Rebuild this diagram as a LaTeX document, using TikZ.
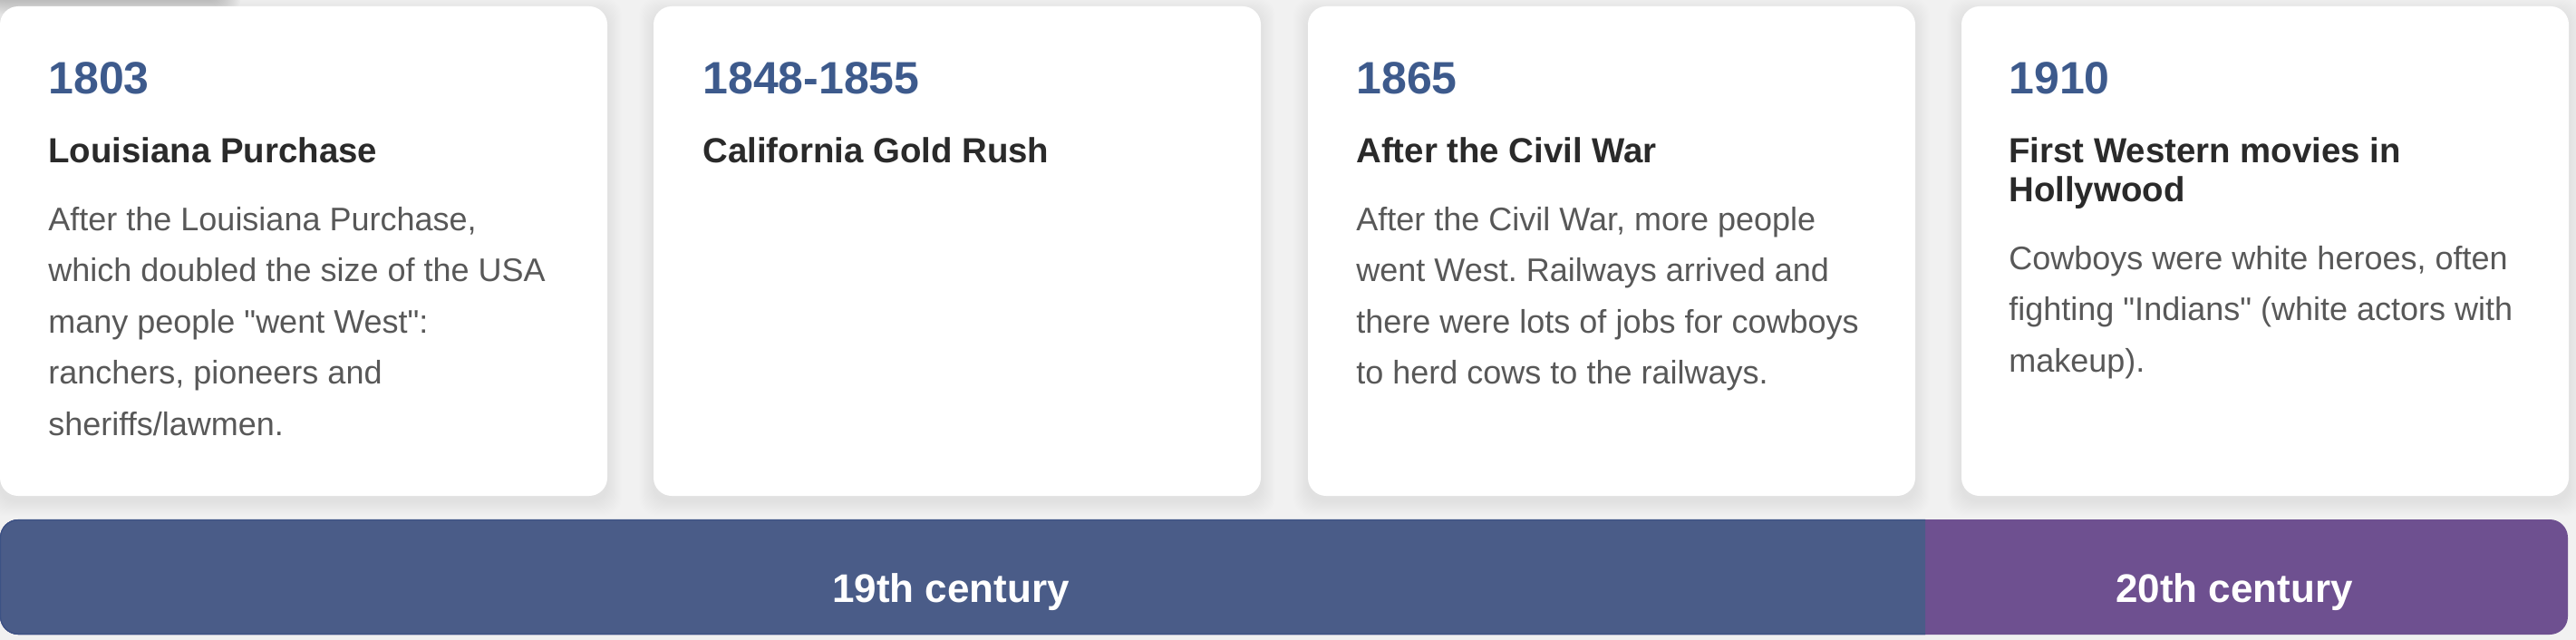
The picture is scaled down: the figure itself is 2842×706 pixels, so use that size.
\documentclass[tikz,border=0pt]{standalone}
\usepackage{fontspec}
\setmainfont{Liberation Sans}[Ligatures=TeXOff]
\frenchspacing
\definecolor{bgcol}{HTML}{F1F1F1}
\definecolor{yearcol}{HTML}{3D5A8C}
\definecolor{titlecol}{HTML}{2A2A2A}
\definecolor{bodycol}{HTML}{585858}
\definecolor{barblue}{HTML}{4A5C88}
\definecolor{barblueedge}{HTML}{3C5285}
\definecolor{barpurple}{HTML}{6E5090}
\newcommand\softshadow[5]{%
  \foreach \i in {1,...,16}{%
    \fill[black,opacity=#5,rounded corners=10pt]
      ({#1-\i},{#2-\i+6}) rectangle ({#3+\i},{#4+\i+6});}}
\begin{document}
\begin{tikzpicture}[x=0.5pt,y=-0.5pt,
  card/.style={fill=white,rounded corners=10pt},
  yearlbl/.style={anchor=base west,inner sep=0pt,text=yearcol,font=\fontsize{25}{30}\selectfont\bfseries},
  titlelbl/.style={anchor=base west,inner sep=0pt,text=titlecol,align=left,font=\fontsize{19.2}{21.5}\selectfont\bfseries\frenchspacing},
  bodylbl/.style={anchor=base west,inner sep=0pt,text=bodycol,align=left,font=\fontsize{18}{28.3}\selectfont\frenchspacing},
  barlbl/.style={anchor=base,inner sep=0pt,text=white,font=\fontsize{22}{26}\selectfont\bfseries}]
\useasboundingbox (0,0) rectangle (2842,706);
\fill[bgcol] (0,0) rectangle (2842,706);
% shadow of an element above the view (top left)
\begin{scope}
\clip (0,0) rectangle (2842,706);
\softshadow{-40}{-120}{250}{-6}{0.012}
\end{scope}
% cards
\foreach \L in {0,721,1443,2164}{%
  \softshadow{\L}{7}{\L+670}{547}{0.005}
  \fill[card] (\L,7) rectangle (\L+670,547);
}
% (multi-line labels are anchored at the baseline of their last line)
% card 1
\node[yearlbl]  (y1) at (53,104) {1803};
\node[titlelbl] (t1) at (53,179) {Louisiana Purchase};
\node[bodylbl]  (b1) at (53,480.4) {After the Louisiana Purchase,\\which doubled the size of the USA\\many people "went West":\\ranchers, pioneers and\\sheriffs/lawmen.};
% card 2
\node[yearlbl]  (y2) at (775,104) {1848-1855};
\node[titlelbl] (t2) at (775,179) {California Gold Rush};
% card 3
\node[yearlbl]  (y3) at (1496,104) {1865};
\node[titlelbl] (t3) at (1496,179) {After the Civil War};
\node[bodylbl]  (b3) at (1496,423.8) {After the Civil War, more people\\went West. Railways arrived and\\there were lots of jobs for cowboys\\to herd cows to the railways.};
% card 4
\node[yearlbl]  (y4) at (2216,104) {1910};
\node[titlelbl] (t4) at (2216,222) {First Western movies in\\Hollywood};
\node[bodylbl]  (b4) at (2216,410.2) {Cowboys were white heroes, often\\fighting "Indians" (white actors with\\makeup).};
% century bar
\fill[barpurple,rounded corners=10pt] (0,573) rectangle (2833,700);
\begin{scope}
\clip (-5,560) rectangle (2124,710);
\fill[barblue,rounded corners=10pt] (0,573) rectangle (2833,700);
\draw[barblueedge,line width=0.6pt,rounded corners=10pt] (0.5,573.5) rectangle (2833,699.5);
\end{scope}
\node[barlbl] (c19) at (1049,664) {19th century};
\node[barlbl] (c20) at (2465,664) {20th century};
\end{tikzpicture}
\end{document}
